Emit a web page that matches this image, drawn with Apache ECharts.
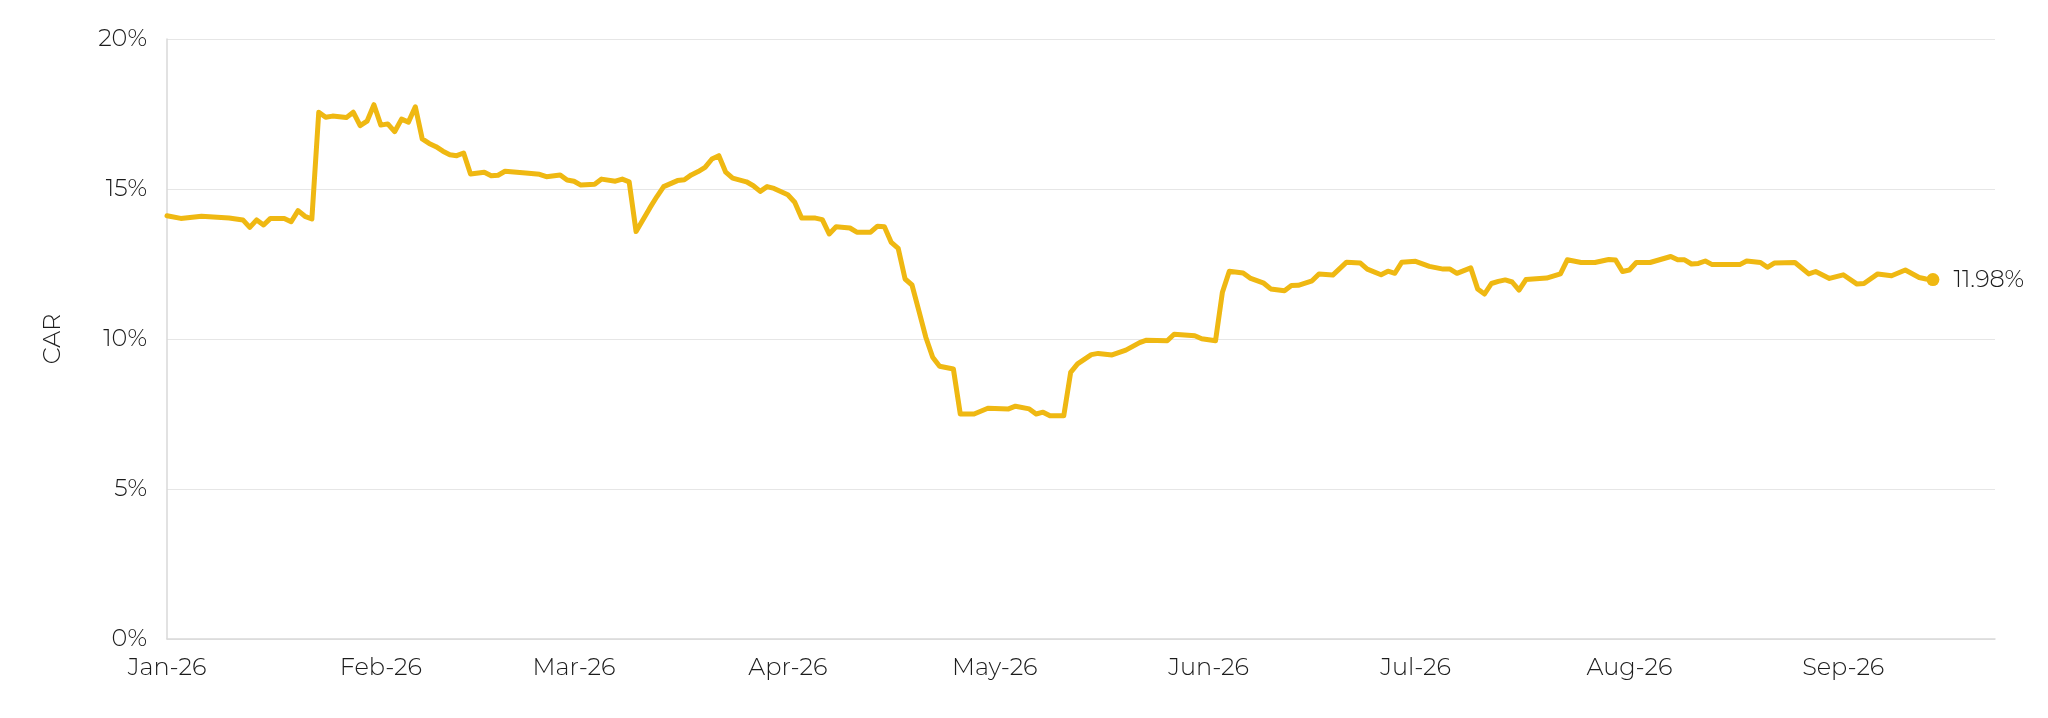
<!DOCTYPE html>
<html>
<head>
<meta charset="utf-8">
<title>CAR</title>
<script src="https://cdn.jsdelivr.net/npm/echarts@6/dist/echarts.min.js"></script>
<style>
  html, body { margin: 0; padding: 0; background: #fff; }
  #chart { width: 2048px; height: 718px; }
</style>
</head>
<body>
<div id="chart"></div>
<script>
// CAR readings, 2026
const dates = [
  '2026-01-01','2026-01-03','2026-01-06','2026-01-10','2026-01-12','2026-01-13','2026-01-14','2026-01-15',
  '2026-01-16','2026-01-18','2026-01-19','2026-01-20','2026-01-21','2026-01-22','2026-01-23','2026-01-24',
  '2026-01-25','2026-01-27','2026-01-28','2026-01-29','2026-01-30','2026-01-31','2026-02-01','2026-02-02',
  '2026-02-03','2026-02-04','2026-02-05','2026-02-06','2026-02-07','2026-02-08','2026-02-09','2026-02-10',
  '2026-02-11','2026-02-12','2026-02-13','2026-02-14','2026-02-16','2026-02-17','2026-02-18','2026-02-19',
  '2026-02-22','2026-02-24','2026-02-25','2026-02-27','2026-02-28','2026-03-01','2026-03-02','2026-03-04',
  '2026-03-05','2026-03-07','2026-03-08','2026-03-09','2026-03-10','2026-03-12','2026-03-13','2026-03-14',
  '2026-03-16','2026-03-17','2026-03-18','2026-03-19','2026-03-20','2026-03-21','2026-03-22','2026-03-23',
  '2026-03-24','2026-03-26','2026-03-27','2026-03-28','2026-03-29','2026-03-30','2026-04-01','2026-04-02',
  '2026-04-03','2026-04-05','2026-04-06','2026-04-07','2026-04-08','2026-04-10','2026-04-11','2026-04-13',
  '2026-04-14','2026-04-15','2026-04-16','2026-04-17','2026-04-18','2026-04-19','2026-04-20','2026-04-21',
  '2026-04-22','2026-04-23','2026-04-25','2026-04-26','2026-04-28','2026-04-30','2026-05-03','2026-05-04',
  '2026-05-06','2026-05-07','2026-05-08','2026-05-09','2026-05-11','2026-05-12','2026-05-13','2026-05-15',
  '2026-05-16','2026-05-18','2026-05-20','2026-05-22','2026-05-23','2026-05-26','2026-05-27','2026-05-30',
  '2026-05-31','2026-06-02','2026-06-03','2026-06-04','2026-06-06','2026-06-07','2026-06-09','2026-06-10',
  '2026-06-12','2026-06-13','2026-06-14','2026-06-16','2026-06-17','2026-06-19','2026-06-21','2026-06-23',
  '2026-06-24','2026-06-26','2026-06-27','2026-06-28','2026-06-29','2026-07-01','2026-07-03','2026-07-05',
  '2026-07-06','2026-07-07','2026-07-09','2026-07-10','2026-07-11','2026-07-12','2026-07-13','2026-07-14',
  '2026-07-15','2026-07-16','2026-07-17','2026-07-20','2026-07-22','2026-07-23','2026-07-25','2026-07-27',
  '2026-07-29','2026-07-30','2026-07-31','2026-08-01','2026-08-02','2026-08-04','2026-08-07','2026-08-08',
  '2026-08-09','2026-08-10','2026-08-11','2026-08-12','2026-08-13','2026-08-17','2026-08-18','2026-08-20',
  '2026-08-21','2026-08-22','2026-08-25','2026-08-27','2026-08-28','2026-08-30','2026-09-01','2026-09-03',
  '2026-09-04','2026-09-06','2026-09-08','2026-09-10','2026-09-12','2026-09-13','2026-09-14'
];

const car = [
  14.11, 14.02, 14.09, 14.03, 13.97, 13.72, 13.97, 13.80,
  14.02, 14.02, 13.91, 14.28, 14.09, 14.00, 17.56, 17.39,
  17.43, 17.38, 17.56, 17.11, 17.26, 17.81, 17.13, 17.17,
  16.91, 17.33, 17.23, 17.74, 16.67, 16.52, 16.41, 16.26,
  16.14, 16.11, 16.20, 15.50, 15.56, 15.44, 15.46, 15.59,
  15.53, 15.49, 15.41, 15.47, 15.30, 15.26, 15.13, 15.16,
  15.33, 15.26, 15.33, 15.24, 13.58, 14.37, 14.74, 15.08,
  15.28, 15.31, 15.47, 15.58, 15.72, 16.00, 16.11, 15.56,
  15.36, 15.24, 15.11, 14.92, 15.08, 15.02, 14.81, 14.56,
  14.03, 14.03, 13.98, 13.50, 13.74, 13.70, 13.56, 13.56,
  13.76, 13.74, 13.22, 13.02, 12.00, 11.80, 10.94, 10.06,
  9.39, 9.09, 9.00, 7.50, 7.50, 7.69, 7.67, 7.76,
  7.67, 7.50, 7.56, 7.44, 7.44, 8.89, 9.17, 9.48,
  9.52, 9.47, 9.63, 9.88, 9.96, 9.94, 10.16, 10.11,
  10.01, 9.94, 11.56, 12.26, 12.20, 12.03, 11.86, 11.67,
  11.61, 11.78, 11.79, 11.94, 12.17, 12.13, 12.56, 12.53,
  12.33, 12.14, 12.26, 12.19, 12.56, 12.59, 12.42, 12.33,
  12.33, 12.19, 12.37, 11.67, 11.50, 11.85, 11.92, 11.97,
  11.90, 11.63, 11.98, 12.03, 12.17, 12.64, 12.55, 12.55,
  12.65, 12.63, 12.25, 12.30, 12.55, 12.55, 12.75, 12.64,
  12.64, 12.50, 12.52, 12.60, 12.48, 12.48, 12.60, 12.55,
  12.39, 12.53, 12.55, 12.17, 12.25, 12.02, 12.14, 11.83,
  11.85, 12.17, 12.11, 12.30, 12.05, 12.00, 11.98
];

const yTicks = [0, 5, 10, 15, 20];
const axisStart = '2026-01-01';
const axisEnd = '2026-09-23';

const lineColor = '#EFB812';
const textColor = '#1c1c1c';
const fontFamily = 'Montserrat, Inter, "Noto Sans", sans-serif';

const chart = echarts.init(document.getElementById('chart'));

const seriesData = dates.map((d, i) => [d, car[i]]);
const lastIdx = car.length - 1;

const option = {
  backgroundColor: '#fff',
  animation: false,
  textStyle: { fontFamily: fontFamily },
  grid: { left: 167, right: 53, top: 39, bottom: 79 },
  xAxis: {
    type: 'time',
    min: axisStart,
    max: axisEnd,
    splitNumber: 9,
    axisLine: { show: true, lineStyle: { color: '#d9d9d9', width: 1.5 } },
    axisTick: { show: false },
    splitLine: { show: false },
    axisLabel: {
      formatter: '{MMM}-{yy}',
      color: textColor,
      fontSize: 24,
      fontWeight: 300,
      fontFamily: fontFamily,
      margin: 17,
      hideOverlap: false
    }
  },
  yAxis: {
    type: 'value',
    min: yTicks[0],
    max: yTicks[yTicks.length - 1],
    interval: 5,
    name: 'CAR',
    nameLocation: 'middle',
    nameGap: 102,
    nameTextStyle: { color: textColor, fontSize: 24, fontWeight: 300, fontFamily: fontFamily },
    axisLine: { show: true, lineStyle: { color: '#d9d9d9', width: 1.5 } },
    axisTick: { show: false },
    splitLine: { lineStyle: { color: '#e6e6e6', width: 1 } },
    axisLabel: {
      formatter: '{value}%',
      color: textColor,
      fontSize: 24,
      fontWeight: 300,
      fontFamily: fontFamily,
      margin: 20
    }
  },
  series: [
    {
      name: 'CAR',
      type: 'line',
      data: seriesData,
      showSymbol: false,
      smooth: false,
      lineStyle: { color: lineColor, width: 5, join: 'round', cap: 'round' },
      itemStyle: { color: lineColor },
      z: 2
    },
    {
      name: 'latest',
      type: 'scatter',
      data: [seriesData[lastIdx]],
      symbol: 'circle',
      symbolSize: 13,
      itemStyle: { color: lineColor, opacity: 1 },
      label: {
        show: true,
        position: 'right',
        distance: 14,
        formatter: (p) => p.value[1].toFixed(2) + '%',
        color: textColor,
        fontSize: 24,
        fontWeight: 300,
        fontFamily: fontFamily
      },
      z: 3
    }
  ]
};

chart.setOption(option);
</script>
</body>
</html>
